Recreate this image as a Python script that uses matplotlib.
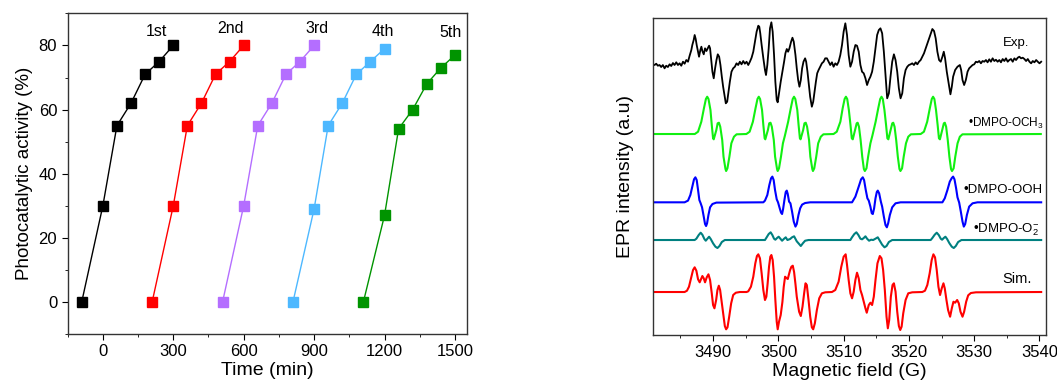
import numpy as np
import matplotlib
matplotlib.use("Agg")
import matplotlib.pyplot as plt
from matplotlib.ticker import MultipleLocator

plt.rcParams['font.family'] = ['Liberation Sans', 'DejaVu Sans']
plt.rcParams['mathtext.fontset'] = 'custom'
plt.rcParams['mathtext.rm'] = 'Liberation Sans'
plt.rcParams['mathtext.it'] = 'Liberation Sans'

# ---- left panel: recycling runs ----
run_labels = ['1st', '2nd', '3rd', '4th', '5th']
run_time = [
    [-90, 0, 60, 120, 180, 240, 300],
    [210, 300, 360, 420, 480, 540, 600],
    [510, 600, 660, 720, 780, 840, 900],
    [810, 900, 960, 1020, 1080, 1140, 1200],
    [1110, 1200, 1260, 1320, 1380, 1440, 1500],
]
run_activity = [
    [0, 30, 55, 62, 71, 75, 80],
    [0, 30, 55, 62, 71, 75, 80],
    [0, 30, 55, 62, 71, 75, 80],
    [0, 29, 55, 62, 71, 75, 79],
    [0, 27, 54, 60, 68, 73, 77],
]
run_label_pos = [(230, 84.3), (542, 85.2), (914, 85.4), (1192, 84.3), (1483, 83.9)]
run_colors = ['black', '#ff0000', '#b46eff', '#4db8ff', '#009400']

# ---- right panel: EPR spectra (field in G, intensity relative to own baseline) ----
exp_spec = [
    (3480.77, 0.7), (3481.03, 0), (3481.29, 1.3), (3481.54, -0.7), (3481.8, 0), (3482.05, -2),
    (3482.31, 0), (3482.57, -3.3), (3482.82, -0.7), (3483.08, -2), (3483.34, 0.7), (3483.59, -1),
    (3483.85, 2), (3484.1, 0), (3484.36, 2.7), (3484.62, 0), (3484.87, 1.7), (3485.13, -0.7),
    (3485.39, 3.3), (3485.64, 1.3), (3485.9, 5), (3486.16, 3.3), (3486.41, 9.3), (3486.67, 15),
    (3486.82, 20), (3487.03, 25), (3487.18, 30), (3487.34, 26), (3487.49, 20), (3487.7, 13.3),
    (3487.85, 8.3), (3488.05, 15), (3488.21, 18.3), (3488.36, 14), (3488.57, 10.7), (3488.77, 16.7),
    (3488.98, 14), (3489.18, 16.7), (3489.39, 19.3), (3489.54, 16.7), (3489.7, 6.7), (3489.9, -6.7),
    (3490.1, -13.3), (3490.31, -3.3), (3490.52, 5), (3490.72, 10.7), (3490.93, 8.3), (3491.13, 0),
    (3491.34, -11.7), (3491.54, -21.7), (3491.75, -30), (3491.95, -38.3), (3492.16, -36.7),
    (3492.36, -26.7), (3492.57, -16.7), (3492.82, -6.7), (3493.08, -3.3), (3493.34, -1.7),
    (3493.59, 1.7), (3493.85, 0), (3494.1, 3.3), (3494.36, 0.7), (3494.62, 4), (3494.87, 1.3),
    (3495.13, 3.3), (3495.39, 0), (3495.64, 3.3), (3495.9, 7.3), (3496.16, 13.3), (3496.41, 23.3),
    (3496.67, 33.3), (3496.93, 39.3), (3497.08, 38.3), (3497.23, 31.7), (3497.44, 20), (3497.7, 6.7),
    (3497.95, -5), (3498.11, -10), (3498.31, 0), (3498.52, 16.7), (3498.72, 36.7), (3498.93, 42.7),
    (3499.13, 33.3), (3499.34, 10), (3499.54, -16.7), (3499.75, -35), (3499.9, -37.3), (3500.1, -28.3),
    (3500.36, -16.7), (3500.62, -6.7), (3500.88, 3.3), (3501.08, 11.7), (3501.29, 16), (3501.49, 13.3),
    (3501.7, 16.7), (3501.95, 23.3), (3502.16, 27.3), (3502.36, 23.3), (3502.62, 10), (3502.82, -3.3),
    (3503.03, -15), (3503.23, -21.7), (3503.44, -15), (3503.64, -3.3), (3503.85, 3.3), (3504.1, 6.7),
    (3504.26, 3.3), (3504.46, -6.7), (3504.67, -20), (3504.87, -31.7), (3505.13, -41.7),
    (3505.34, -36.7), (3505.54, -26.7), (3505.75, -16.7), (3505.95, -8.3), (3506.16, -5),
    (3506.41, -1.7), (3506.67, 1.7), (3506.93, 3.3), (3507.18, 6.7), (3507.44, 6.7), (3507.7, 3.3),
    (3507.95, 0), (3508.21, 2.7), (3508.46, -1.7), (3508.72, 1.7), (3508.98, 0), (3509.23, 3.3),
    (3509.49, 10), (3509.75, 20), (3510.0, 33.3), (3510.26, 41.7), (3510.52, 30), (3510.77, 10),
    (3511.03, -1.7), (3511.29, 3.3), (3511.54, 13.3), (3511.8, 20), (3512.05, 19.3), (3512.31, 13.3),
    (3512.57, 0), (3512.82, -6.7), (3513.08, -8.3), (3513.34, -13.3), (3513.59, -20), (3513.85, -15),
    (3514.1, -11.7), (3514.36, -6.7), (3514.62, 3.3), (3514.88, 16.7), (3515.13, 30), (3515.39, 35),
    (3515.64, 36.7), (3515.9, 31.7), (3516.16, 13.3), (3516.41, -10), (3516.67, -33.3),
    (3516.93, -28.3), (3517.18, -11.7), (3517.44, 3.3), (3517.7, 10.7), (3517.95, 5), (3518.21, -6.7),
    (3518.46, -23.3), (3518.72, -33.3), (3518.98, -28.3), (3519.23, -13.3), (3519.49, -5),
    (3519.75, -1.7), (3520.0, 0), (3520.26, 0.7), (3520.51, 1.7), (3520.77, 0), (3521.03, 2.7),
    (3521.29, 0.7), (3521.54, 3.3), (3521.8, 5), (3522.05, 8.3), (3522.31, 11.7), (3522.57, 16.7),
    (3522.82, 21.7), (3523.08, 26.7), (3523.34, 31.7), (3523.59, 36), (3523.85, 34), (3524.1, 26.7),
    (3524.36, 13.3), (3524.62, 5), (3524.87, 3.3), (3525.13, 8.3), (3525.34, 13.3), (3525.54, 6.7),
    (3525.8, -6.7), (3526.05, -16.7), (3526.36, -29.3), (3526.57, -21.7), (3526.77, -11.7),
    (3527.08, -5), (3527.44, -1.7), (3527.8, 0), (3528.0, -5), (3528.21, -15), (3528.46, -20),
    (3528.72, -15), (3528.98, -6.7), (3529.23, -3.3), (3529.49, -1.7), (3529.75, 0), (3530.0, 0.7),
    (3530.26, 3.3), (3530.51, 2.7), (3530.77, 4), (3531.03, 1.7), (3531.28, 4), (3531.54, 3.3),
    (3531.8, 5), (3532.05, 2.7), (3532.31, 5.7), (3532.56, 3.3), (3532.82, 6.7), (3533.08, 4),
    (3533.33, 5.3), (3533.59, 3.3), (3533.85, 5), (3534.1, 2.7), (3534.36, 6), (3534.62, 4),
    (3534.87, 6.7), (3535.13, 3.3), (3535.38, 5), (3535.64, 6), (3535.9, 3.3), (3536.16, 6.7),
    (3536.41, 5), (3536.67, 7.3), (3536.92, 8.3), (3537.18, 6.7), (3537.44, 7.3), (3537.69, 6),
    (3537.95, 4), (3538.21, 6), (3538.46, 3.3), (3538.72, 1.7), (3538.97, 4), (3539.23, 2.7),
    (3539.49, 5), (3539.74, 3.3), (3540.0, 1.7), (3540.26, 3.3),
]

och3_spec = [
    (3480.8, 0), (3487.2, 0), (3487.7, 2.3), (3488.2, 12.3), (3488.6, 25.7), (3488.9, 35), (3489.1, 37.3),
    (3489.3, 35), (3489.6, 24), (3489.8, 9), (3490.0, -4.3), (3490.1, -5.3), (3490.5, 4), (3490.7, 10.7),
    (3490.9, 11.3), (3491.1, 7.3), (3491.4, -6), (3491.6, -22.7), (3491.9, -35), (3492.0, -37),
    (3492.2, -34.3), (3492.5, -22.7), (3492.8, -9.3), (3493.2, -2.7), (3493.6, -0.3),
    (3495.1, 0), (3495.6, 2.3), (3496.1, 12.3), (3496.5, 25.7), (3496.8, 35), (3497.0, 37.3),
    (3497.2, 35), (3497.5, 24), (3497.7, 9), (3497.9, -4.3), (3498.0, -5.3), (3498.4, 4), (3498.6, 10.7),
    (3498.8, 11.3), (3499.0, 7.3), (3499.3, -6), (3499.5, -22.7), (3499.8, -35), (3499.9, -37),
    (3500.1, -34.3), (3500.4, -22.7), (3500.7, -9.3), (3501.0, -1.7),
    (3501.5, 12.3), (3501.9, 25.7), (3502.2, 35), (3502.4, 37.3), (3502.6, 35), (3502.9, 24),
    (3503.1, 9), (3503.3, -4.3), (3503.4, -5.3), (3503.8, 4), (3504.0, 10.7), (3504.2, 11.3),
    (3504.4, 7.3), (3504.7, -6), (3504.9, -22.7), (3505.2, -35), (3505.3, -37), (3505.5, -34.3),
    (3505.8, -22.7), (3506.1, -9.3), (3506.5, -2.7), (3506.9, -0.3),
    (3508.45, 0), (3508.95, 2.3), (3509.5, 12.3), (3509.85, 25.7), (3510.15, 35), (3510.35, 37.3),
    (3510.55, 35), (3510.8, 24), (3511.05, 9), (3511.25, -4.3), (3511.4, -5.3), (3511.75, 4),
    (3512.0, 10.7), (3512.15, 11.3), (3512.35, 7.3), (3512.6, -6), (3512.85, -22.7), (3513.1, -35),
    (3513.25, -37), (3513.5, -34.3), (3513.75, -22.7), (3514.1, -9.3), (3514.4, -1.7),
    (3514.9, 12.3), (3515.3, 25.7), (3515.6, 35), (3515.8, 37.3), (3516.0, 35), (3516.25, 24),
    (3516.5, 9), (3516.7, -4.3), (3516.85, -5.3), (3517.2, 4), (3517.45, 10.7), (3517.6, 11.3),
    (3517.8, 7.3), (3518.05, -6), (3518.3, -22.7), (3518.55, -35), (3518.7, -37), (3518.95, -34.3),
    (3519.2, -22.7), (3519.55, -9.3), (3519.9, -2.7), (3520.3, -0.3),
    (3521.8, 0), (3522.3, 2.3), (3522.8, 12.3), (3523.2, 25.7), (3523.5, 35), (3523.7, 37.3),
    (3523.9, 35), (3524.15, 24), (3524.4, 9), (3524.6, -4.3), (3524.75, -5.3), (3525.1, 4),
    (3525.35, 10.7), (3525.5, 11.3), (3525.7, 7.3), (3525.95, -6), (3526.2, -22.7), (3526.45, -35),
    (3526.6, -37), (3526.85, -34.3), (3527.1, -22.7), (3527.45, -9.3), (3527.8, -2.7), (3528.2, -0.3),
    (3540.2, 0),
]

ooh_spec = [
    (3480.77, 0), (3485.64, 0), (3486.16, 1.7), (3486.52, 7.3), (3486.82, 15.7), (3487.08, 23),
    (3487.29, 25), (3487.49, 22.3), (3487.7, 12.3), (3487.9, 2.3), (3488.1, -1), (3488.31, -5),
    (3488.57, -14.3), (3488.77, -21.7), (3488.93, -23.7), (3489.08, -21), (3489.29, -12.7),
    (3489.54, -5), (3489.9, -1.7), (3490.5, -0.3),
    (3497.7, 0), (3497.95, 1.7), (3498.31, 7.3), (3498.62, 17.3), (3498.88, 24), (3499.08, 25.7),
    (3499.28, 22.3), (3499.49, 12.3), (3499.75, 3), (3499.95, 0), (3500.21, -6), (3500.41, -10.3),
    (3500.57, -11.7), (3500.72, -7), (3500.93, 2.3), (3501.13, 10.3), (3501.29, 11.7), (3501.44, 8.3),
    (3501.64, 0.7), (3501.85, -1), (3502.1, -9.3), (3502.36, -19.3), (3502.62, -24.3), (3502.82, -21.7),
    (3503.08, -12.7), (3503.34, -6), (3503.64, -2.3), (3504.1, -0.7), (3504.88, 0),
    (3511.29, 0), (3511.8, 5.7), (3512.31, 15.7), (3512.67, 23), (3512.93, 25), (3513.13, 22.3),
    (3513.39, 12.3), (3513.64, 4), (3513.85, 1.7), (3514.1, -4.3), (3514.31, -11), (3514.47, -11.7),
    (3514.67, -6), (3514.88, 4), (3515.08, 10.3), (3515.23, 11.7), (3515.44, 9), (3515.7, 0.7),
    (3515.9, -4.3), (3516.16, -14.3), (3516.41, -22.7), (3516.62, -25), (3516.82, -21),
    (3517.08, -12.7), (3517.44, -5), (3517.95, -1), (3518.72, 0),
    (3525.13, 0), (3525.49, 4), (3525.9, 12.3), (3526.26, 20.7), (3526.57, 24.3), (3526.77, 25.7),
    (3526.98, 23), (3527.23, 14), (3527.44, 5), (3527.7, -0.3), (3527.95, -9.3), (3528.21, -19.3),
    (3528.41, -24.3), (3528.62, -21.7), (3528.88, -12.7), (3529.23, -4.3), (3529.75, -1),
    (3530.5, 0), (3540.26, 0),
]

o2_spec = [
    (3480.77, 0), (3487.18, 0), (3487.44, 1.3), (3487.8, 5), (3488.1, 7.3), (3488.36, 5.3),
    (3488.67, 1), (3488.88, -0.7), (3489.13, 1.3), (3489.39, 3.3), (3489.64, 1), (3490.0, -3.3),
    (3490.36, -6.7), (3490.67, -8), (3490.98, -6), (3491.34, -2), (3491.8, 0),
    (3497.95, 0), (3498.21, 2.7), (3498.52, 6), (3498.82, 7.7), (3499.08, 5), (3499.34, 1.3),
    (3499.54, 0.3), (3499.8, 2), (3500.05, 3.3), (3500.31, 1.3), (3500.57, -0.7), (3500.88, 1.3),
    (3501.13, 2.7), (3501.39, 0), (3501.8, 1), (3502.1, 2.7), (3502.41, 3.7), (3502.82, -1.3),
    (3503.18, -4), (3503.44, -6), (3503.75, -3.3), (3504.1, -0.7), (3504.62, 0),
    (3511.03, 0), (3511.28, 2.7), (3511.64, 6), (3511.95, 7.7), (3512.26, 5), (3512.57, 1.3),
    (3512.82, 0.7), (3513.08, 2), (3513.34, 3.7), (3513.59, 1.3), (3513.9, -0.7), (3514.21, 0.3),
    (3514.52, 0), (3514.87, 1.3), (3515.23, 2.7), (3515.54, -0.7), (3515.9, -4.7), (3516.26, -7.3),
    (3516.57, -6), (3516.93, -2), (3517.44, 0),
    (3523.34, 0), (3523.59, 2), (3523.95, 5.3), (3524.26, 7.3), (3524.57, 5), (3524.88, 1.3),
    (3525.08, 0.3), (3525.34, 2), (3525.59, 3.3), (3525.85, 1), (3526.21, -3.3), (3526.57, -6.7),
    (3526.87, -8), (3527.18, -6), (3527.54, -2), (3528.05, 0), (3540.26, 0),
]

sim_spec = [
    (3480.77, 0), (3485.64, 0), (3486.0, 1.3), (3486.31, 5.3), (3486.62, 13.7), (3486.93, 22),
    (3487.18, 24.7), (3487.44, 21.3), (3487.7, 12.7), (3487.95, 9.7), (3488.21, 13.7), (3488.36, 16),
    (3488.57, 13.7), (3488.77, 9.7), (3489.03, 14.7), (3489.29, 17.7), (3489.54, 12), (3489.8, -1.3),
    (3490.0, -13), (3490.21, -16.3), (3490.47, -8), (3490.67, 2), (3490.88, 6.3), (3491.08, 2),
    (3491.34, -11.3), (3491.59, -24.7), (3491.8, -34), (3492.0, -37.3), (3492.21, -35.3),
    (3492.47, -24.7), (3492.77, -11.3), (3493.08, -3), (3493.49, -0.7), (3494.1, 0), (3495.13, 0),
    (3495.39, 0.7), (3495.8, 5.3), (3496.16, 15.3), (3496.47, 28.7), (3496.72, 36), (3496.93, 37.7),
    (3497.18, 33.7), (3497.44, 18.7), (3497.7, 2), (3497.95, -8), (3498.16, -4.7), (3498.36, 8.7),
    (3498.57, 25.3), (3498.77, 35.3), (3498.93, 37), (3499.13, 32), (3499.34, 15.3), (3499.54, -8),
    (3499.75, -29.7), (3499.9, -37.3), (3500.1, -29.7), (3500.36, -23), (3500.62, -10), (3500.82, 5),
    (3501.03, 15.3), (3501.23, 14), (3501.44, 13), (3501.8, 22), (3502.0, 25.3), (3502.21, 26.3),
    (3502.41, 20), (3502.62, 8), (3502.82, -4.7), (3503.18, -19.7), (3503.44, -24), (3503.7, -14.7),
    (3503.95, -1.3), (3504.16, 8.7), (3504.36, 7), (3504.62, -8), (3504.88, -24.7), (3505.13, -35.3),
    (3505.34, -37.3), (3505.59, -31.3), (3505.9, -18), (3506.26, -6.3), (3506.67, -1.3),
    (3507.18, -0.3), (3508.21, 0), (3508.72, 2), (3509.23, 10.3), (3509.64, 25.3), (3510.0, 35.3),
    (3510.31, 37.7), (3510.52, 27), (3510.77, 12), (3511.03, -1.3), (3511.29, -6.3), (3511.54, 0.3),
    (3511.8, 12), (3512.05, 19.3), (3512.31, 13.7), (3512.57, 2), (3512.82, -3), (3513.08, -9.7),
    (3513.34, -16.3), (3513.54, -20.7), (3513.85, -13), (3514.1, -10.7), (3514.36, -13),
    (3514.62, -4.7), (3514.88, 12), (3515.18, 28.7), (3515.54, 36), (3515.8, 33.7), (3516.05, 22),
    (3516.31, 2), (3516.57, -24.7), (3516.77, -36.3), (3516.98, -28), (3517.23, -4.7), (3517.49, 7),
    (3517.7, 8.7), (3517.95, 0.3), (3518.21, -19.7), (3518.46, -34), (3518.67, -38), (3518.88, -34.7),
    (3519.13, -21.3), (3519.49, -8), (3519.9, -1.3), (3520.51, -0.3), (3522.05, 0), (3522.46, 1.3),
    (3522.82, 7), (3523.18, 18.7), (3523.49, 32), (3523.75, 37.7), (3524.0, 34.7), (3524.26, 22),
    (3524.52, 5.3), (3524.77, -3), (3525.03, 3.7), (3525.29, 8.7), (3525.49, 3.7), (3525.75, -8),
    (3526.0, -18), (3526.31, -24.7), (3526.57, -16.3), (3526.82, -9.7), (3527.08, -10.7),
    (3527.39, -8), (3527.64, -11.3), (3527.9, -19.7), (3528.21, -24.7), (3528.46, -19.7),
    (3528.77, -9.7), (3529.08, -3.3), (3529.49, -1), (3530.26, -0.3), (3540.26, 0),
]

fig = plt.figure(figsize=(10.57, 3.9), dpi=100)
ax1 = fig.add_axes([0.064, 0.1436, 0.3775, 0.822])
ax2 = fig.add_axes([0.6178, 0.141, 0.3718, 0.8128])

for t, a, c in zip(run_time, run_activity, run_colors):
    ax1.plot(t, a, '-s', color=c, lw=1, ms=7, mec=c)
for lab, (tx, ty) in zip(run_labels, run_label_pos):
    ax1.text(tx, ty, lab, ha='center', va='center', fontsize=11.5)

ax1.set_xlim(-150, 1550)
ax1.set_ylim(-10, 90)
ax1.xaxis.set_major_locator(MultipleLocator(300))
ax1.xaxis.set_minor_locator(MultipleLocator(150))
ax1.yaxis.set_major_locator(MultipleLocator(20))
ax1.yaxis.set_minor_locator(MultipleLocator(10))
ax1.set_xlabel('Time (min)', fontsize=14, labelpad=2)
ax1.set_ylabel('Photocatalytic activity (%)', fontsize=13.5, labelpad=4)

spectra = [
    (exp_spec, 270, 'black', 1.3),
    (och3_spec, 201, '#11f011', 1.5),
    (ooh_spec, 132.7, '#0000ff', 1.5),
    (o2_spec, 95, '#008080', 1.5),
    (sim_spec, 43, '#ff0000', 1.5),
]
for spec, base, c, lw in spectra:
    arr = np.array(spec)
    ax2.plot(arr[:, 0], arr[:, 1] + base, color=c, lw=lw)

ax2.text(3536.4, 292, 'Exp.', ha='center', va='center', fontsize=9.5)
ax2.text(3540.6, 212, '\u2022DMPO-OCH$_3$', ha='right', va='center', fontsize=8.5)
ax2.text(3528.4, 145, '\u2022DMPO-OOH', ha='left', va='center', fontsize=9.5)
ax2.text(3529.8, 105, '\u2022DMPO-O$_2^{-}$', ha='left', va='center', fontsize=9.5)
ax2.text(3536.6, 56, 'Sim.', ha='center', va='center', fontsize=10.5)

ax2.set_xlim(3480.8, 3541)
ax2.set_ylim(0, 317)
ax2.set_yticks([])
ax2.xaxis.set_major_locator(MultipleLocator(10))
ax2.xaxis.set_minor_locator(MultipleLocator(5))
ax2.set_xlabel('Magnetic field (G)', fontsize=14, labelpad=2)
ax2.set_ylabel('EPR intensity (a.u)', fontsize=14, labelpad=14)

for ax in (ax1, ax2):
    ax.tick_params(which='both', direction='out', top=False, right=False, labelsize=12)
    ax.tick_params(which='major', length=4)
    ax.tick_params(which='minor', length=2.5)
    for s in ax.spines.values():
        s.set_color('#333333')
        s.set_linewidth(1)

fig.savefig('out.png', dpi=100)
